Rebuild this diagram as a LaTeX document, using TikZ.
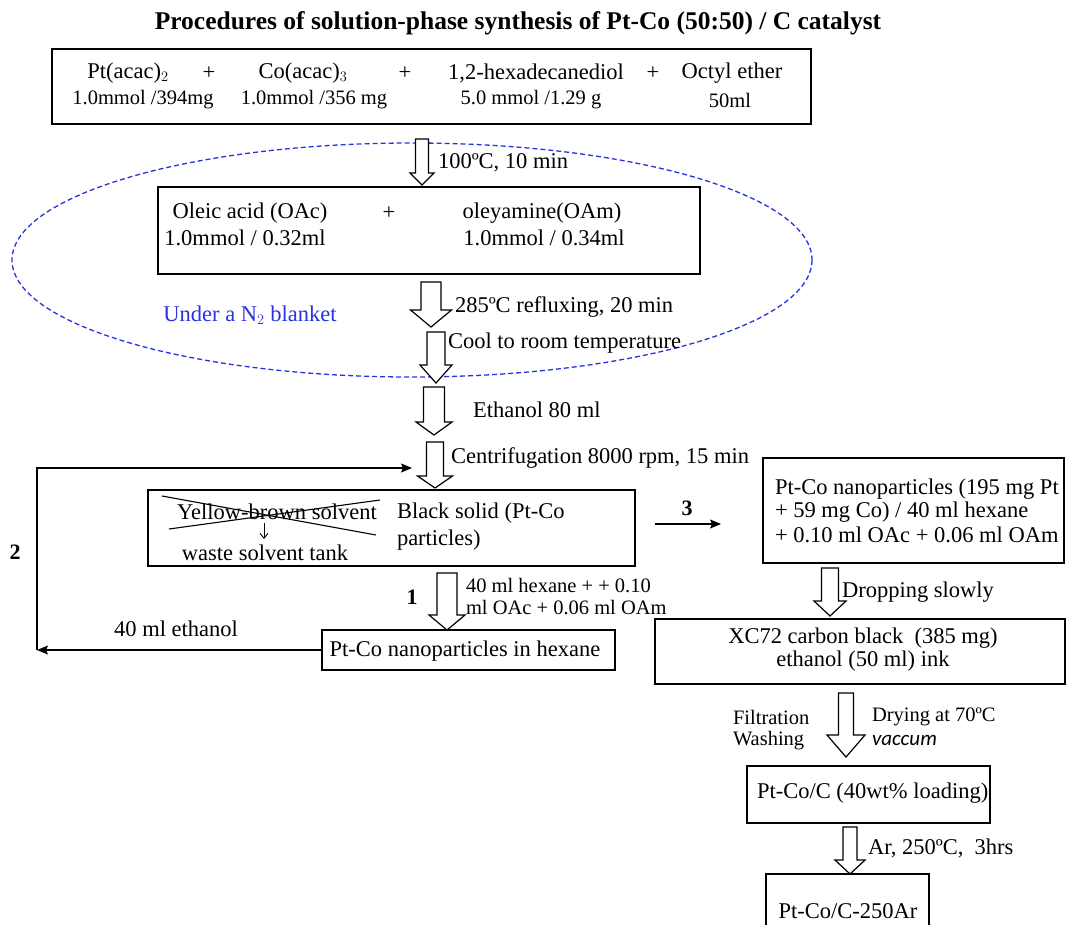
\documentclass[tikz,border=0pt]{standalone}
\usepackage{fontspec}
\setmainfont{Liberation Serif}
\newfontfamily\vacfont{Carlito}
\usetikzlibrary{arrows.meta}
\definecolor{nblue}{RGB}{40,50,225}
\newcommand\blockarr[6]{% cx, ytop, ybot, shaft width, head width, head length
  \draw[blockarrow] ({#1-#4/2},#2) -- ({#1+#4/2},#2) -- ({#1+#4/2},{#3-#6}) -- ({#1+#5/2},{#3-#6})
     -- (#1,#3) -- ({#1-#5/2},{#3-#6}) -- ({#1-#4/2},{#3-#6}) -- cycle;}
\begin{document}
\begin{tikzpicture}[x=1pt,y=-1pt,
  every node/.style={inner sep=0pt, outer sep=0pt},
  txt/.style={font=\fontsize{22.5}{25}\selectfont},
  sm/.style={font=\fontsize{20.5}{23}\selectfont},
  ttl/.style={font=\fontsize{25.5}{28}\selectfont\bfseries},
  num/.style={font=\fontsize{22}{24}\selectfont\bfseries},
  boxed/.style={draw, line width=1.4pt},
  blockarrow/.style={draw, line width=1.2pt, fill=white, line join=miter},
  conn/.style={line width=1.2pt, -{Stealth[length=11pt,width=9pt,inset=2pt]}},
]
\useasboundingbox (0,0) rectangle (1067,924);

% title
\node[ttl] (title) at (518,23) {Procedures of solution-phase synthesis of Pt-Co (50:50) / C catalyst};

% N2 blanket ellipse
\draw[nblue, line width=1.3pt, dash pattern=on 5pt off 3pt] (412,260) ellipse [x radius=400, y radius=117];
\node[txt, text=nblue] (blanket) at (250,315) {Under a N$_2$ blanket};

% box 1
\node[boxed, minimum width=759pt, minimum height=75pt] (b1) at (431.5,86.5) {};
\node[txt] (pt) at (128,73) {Pt(acac)$_2$};
\node[txt] (p1) at (209,73) {+};
\node[txt] (co) at (303,73) {Co(acac)$_3$};
\node[txt] (p2) at (405,73) {+};
\node[txt] (hd) at (536,73) {1,2-hexadecanediol};
\node[txt] (p3) at (653,73) {+};
\node[txt] (oe) at (732,73) {Octyl ether};
\node[sm] (ptq) at (143,100) {1.0mmol /394mg};
\node[sm] (coq) at (314,100) {1.0mmol /356 mg};
\node[sm] (hdq) at (531,100) {5.0 mmol /1.29 g};
\node[sm] (oeq) at (730,100) {50ml};

% arrow 1
\blockarr{422}{139}{185}{13}{24}{12}
\node[txt, anchor=west] (l1) at (438,163) {100ºC, 10 min};

% box 2
\node[boxed, minimum width=542pt, minimum height=87pt] (b2) at (429,230.5) {};
\node[txt] (oa) at (250,213) {Oleic acid (OAc)};
\node[txt] (p4) at (389,213) {+};
\node[txt] (om) at (542,213) {oleyamine(OAm)};
\node[txt] (oaq) at (245,238) {1.0mmol / 0.32ml};
\node[txt] (omq) at (544,238) {1.0mmol / 0.34ml};

% arrows 2-5
\blockarr{431}{282}{327}{20}{41}{17}
\node[txt, anchor=west] (l2) at (455,307) {285ºC refluxing, 20 min};
\blockarr{436}{332}{383}{18}{32}{18}
\node[txt, anchor=west] (l3) at (448,343) {Cool to room temperature};
\blockarr{434}{387}{435}{21}{36}{13}
\node[txt, anchor=west] (l4) at (473,410) {Ethanol 80 ml};
\blockarr{435}{442}{488}{17}{35}{12}
\node[txt, anchor=west] (l5) at (451,458) {Centrifugation 8000 rpm, 15 min};

% box 3
\node[boxed, minimum width=487pt, minimum height=76pt] (b3) at (391.5,528) {};
\node[txt] (yb) at (277,512) {Yellow-brown solvent};
\draw[line width=1.1pt] (162,496) -- (376,535);
\draw[line width=1.1pt] (169,529) -- (380,500);
\node[txt] (waste) at (265,553) {waste solvent tank};
\draw[line width=0.9pt, -{Straight Barb[length=5pt,width=8pt]}] (264,523) -- (264,539);
\node[txt, anchor=west] (bs1) at (397,513) {Black solid (Pt-Co};
\node[txt, anchor=west] (bs2) at (397,540) {particles)};

% route 3
\node[num] (n3) at (687,508) {3};
\coordinate (r3a) at (655,524);
\coordinate (r3b) at (721,524);
\draw[conn] (r3a) -- (r3b);

% box 4
\node[boxed, minimum width=301pt, minimum height=105pt] (b4) at (913.5,510.5) {};
\node[txt, anchor=west] (b4a) at (775,489) {Pt-Co nanoparticles (195 mg Pt};
\node[txt, anchor=west] (b4b) at (775,512) {+ 59 mg Co) / 40 ml hexane};
\node[txt, anchor=west] (b4c) at (775,535) {+ 0.10 ml OAc + 0.06 ml OAm};

% route 1
\blockarr{447}{573}{630}{20}{36}{15}
\node[num] (n1) at (412,597) {1};
\node[sm, anchor=west] (l6a) at (466,586) {40 ml hexane + + 0.10};
\node[sm, anchor=west] (l6b) at (466,608) {ml OAc + 0.06 ml OAm};
\node[boxed, minimum width=293pt, minimum height=40pt] (b5) at (468.5,650) {};
\node[txt] (b5t) at (465,651) {Pt-Co nanoparticles in hexane};

% route 2 (loop)
\coordinate (lpBL) at (37,650);
\coordinate (lpTL) at (37,468);
\coordinate (lpEnd) at (412,468);
\draw[conn] (b5.west) -- (lpBL);
\draw[conn] (lpBL) -- (lpTL) -- (lpEnd);
\node[num] (n2) at (15,552) {2};
\node[txt] (eth) at (176,629) {40 ml ethanol};

% right column
\blockarr{830}{568}{616}{17}{32}{15}
\node[txt, anchor=west] (l7) at (842,592) {Dropping slowly};
\node[boxed, minimum width=410pt, minimum height=65pt] (b6) at (860,651.5) {};
\node[txt] (b6a) at (863,638) {XC72 carbon black \ (385 mg)};
\node[txt] (b6b) at (863,661) {ethanol (50 ml) ink};

\blockarr{846}{693}{757}{15}{38}{22}
\node[sm, anchor=west] (fa) at (733,717) {Filtration};
\node[sm, anchor=west] (fb) at (733,741) {Washing};
\node[sm, anchor=west] (da) at (872,717) {Drying at 70ºC};
\node[anchor=west, font=\fontsize{21}{23}\vacfont\itshape] (db) at (872,740) {vaccum};

\node[boxed, minimum width=243pt, minimum height=57pt] (b7) at (868.5,794.5) {};
\node[txt, anchor=west] (b7t) at (757,793) {Pt-Co/C (40wt\% loading)};

\blockarr{850}{827}{874}{14}{30}{14}
\node[txt, anchor=west] (l9) at (868,848) {Ar, 250ºC, \ 3hrs};
\node[boxed, minimum width=163pt, minimum height=60pt] (b8) at (847.5,904) {};
\node[txt] (b8t) at (848,911) {Pt-Co/C-250Ar};
\end{tikzpicture}
\end{document}
